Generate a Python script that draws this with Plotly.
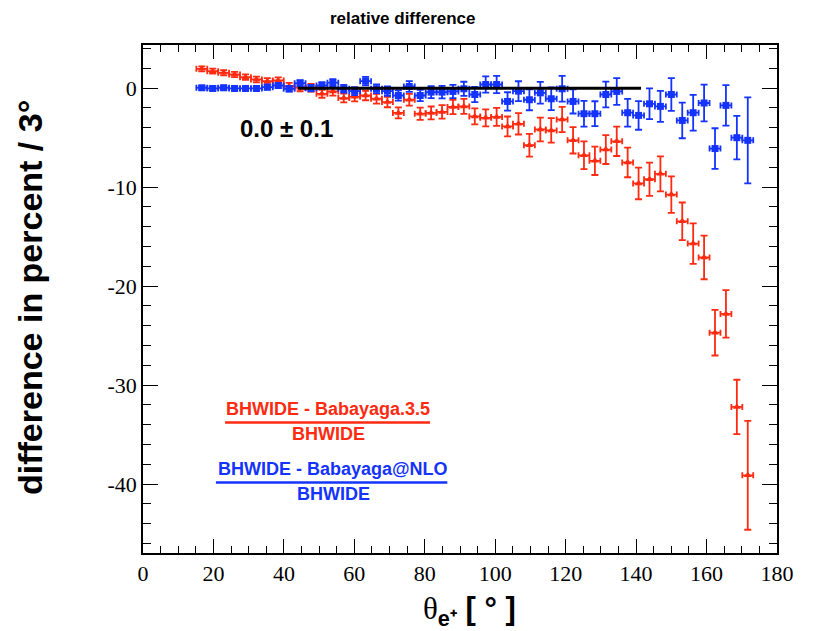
import plotly.graph_objects as go

# bin centres (degrees) as they appear on the picture
theta = [16.7, 19.8, 22.9, 26.0, 29.1, 32.2, 35.3, 38.4, 41.5, 44.6,
         47.7, 50.8, 53.9, 57.0, 60.1, 63.2, 66.3, 69.4, 72.5, 75.6,
         78.7, 81.8, 84.9, 88.0, 91.1, 94.2, 97.3, 100.4, 103.5, 106.6,
         109.7, 112.8, 115.9, 119.0, 122.1, 125.2, 128.3, 131.4, 134.5, 137.6,
         140.7, 143.8, 146.9, 150.0, 153.1, 156.2, 159.3, 162.4, 165.5, 168.6,
         171.7]
theta_halfwidth = [1.55] * len(theta)

# (BHWIDE - Babayaga.3.5)/BHWIDE  [%]
red_val = [1.95, 1.72, 1.55, 1.38, 1.11, 0.88, 0.71, 0.78, 0.2, 0.05,
           0.04, -0.57, -0.33, -1.0, -0.87, -0.74, -1.07, -1.4, -2.5, -1.17,
           -2.58, -2.5, -2.4, -1.9, -1.84, -2.85, -3.0, -2.9, -3.86, -3.6,
           -5.76, -4.17, -4.27, -3.16, -5.27, -6.78, -7.34, -6.2, -5.37, -7.5,
           -9.62, -9.2, -8.65, -10.75, -13.45, -15.7, -17.1, -24.7, -22.8, -32.2,
           -39.1]
red_err = [0.25, 0.25, 0.26, 0.27, 0.28, 0.29, 0.3, 0.32, 0.34, 0.36,
           0.38, 0.4, 0.42, 0.44, 0.46, 0.48, 0.5, 0.53, 0.56, 0.59,
           0.62, 0.65, 0.68, 0.72, 0.76, 0.8, 0.85, 0.9, 1.0, 1.08,
           1.15, 1.2, 1.24, 1.28, 1.33, 1.4, 1.43, 1.46, 1.48, 1.5,
           1.6, 1.68, 1.77, 1.85, 1.9, 2.05, 2.2, 2.3, 2.4, 2.75,
           5.5]

# (BHWIDE - Babayaga@NLO)/BHWIDE  [%]
blue_val = [0.04, -0.03, 0.04, -0.03, -0.03, -0.03, 0.1, 0.27, -0.06, 0.5,
            0.0, 0.27, 0.55, -0.06, -0.3, 0.71, -0.06, -0.3, -0.74, 0.17,
            -0.74, -0.4, -0.4, -0.33, -0.06, -0.64, 0.37, 0.37, -1.34, -0.3,
            -1.17, -0.47, -1.07, -0.06, -1.34, -2.58, -2.58, -0.64, -0.33, -2.48,
            -2.75, -1.58, -1.84, -0.64, -3.26, -2.48, -1.5, -6.1, -1.74, -5.0,
            -5.27]
blue_err = [0.2, 0.2, 0.21, 0.22, 0.23, 0.24, 0.25, 0.27, 0.29, 0.31,
            0.33, 0.35, 0.37, 0.39, 0.41, 0.43, 0.45, 0.48, 0.51, 0.54,
            0.57, 0.6, 0.63, 0.67, 0.71, 0.76, 0.82, 0.87, 0.93, 1.0,
            1.06, 1.1, 1.15, 1.3, 1.22, 1.3, 1.26, 1.3, 1.35, 1.4,
            1.45, 1.55, 1.56, 1.65, 1.8, 1.8, 1.85, 2.05, 2.05, 2.2,
            4.35]

# constant fit of the blue curve
fit_x = [44.0, 141.4]
fit_y = [0.0, 0.0]
fit_label = "0.0 ± 0.1"

x_ticks = [0, 20, 40, 60, 80, 100, 120, 140, 160, 180]
x_ticktext = ["0", "20", "40", "60", "80", "100", "120", "140", "160", "180"]
y_ticks = [0, -10, -20, -30, -40]
y_ticktext = ["0", "-10", "-20", "-30", "-40"]

RED = "#ff2a10"
BLUE = "#1433ff"

fig = go.Figure()

fig.add_trace(go.Scatter(
    x=theta, y=red_val, mode="markers",
    marker=dict(symbol="triangle-up", size=7, color=RED),
    error_y=dict(type="data", array=red_err, color=RED, thickness=1.8, width=3.5),
    error_x=dict(type="data", array=theta_halfwidth, color=RED, thickness=1.8, width=3),
    showlegend=False))

fig.add_trace(go.Scatter(
    x=theta, y=blue_val, mode="markers",
    marker=dict(symbol="square", size=7, color=BLUE),
    error_y=dict(type="data", array=blue_err, color=BLUE, thickness=1.8, width=3.5),
    error_x=dict(type="data", array=theta_halfwidth, color=BLUE, thickness=1.8, width=3),
    showlegend=False))

fig.add_trace(go.Scatter(
    x=fit_x, y=fit_y, mode="lines",
    line=dict(color="black", width=3), showlegend=False))

axis_common = dict(
    showgrid=False, zeroline=False, showline=True, linecolor="black", linewidth=1.5,
    mirror="ticks", ticks="inside", tickcolor="black", tickwidth=1.2,
    tickfont=dict(family="Liberation Serif", size=22, color="black"),
)

fig.update_xaxes(range=[0, 180], tickvals=x_ticks, ticktext=x_ticktext, ticklen=14,
                 minor=dict(dtick=5, ticklen=7, ticks="inside", tickcolor="black", tickwidth=1.2),
                 **axis_common)
fig.update_yaxes(range=[-46.95, 4.36], tickvals=y_ticks, ticktext=y_ticktext, ticklen=15,
                 minor=dict(dtick=2, ticklen=8, ticks="inside", tickcolor="black", tickwidth=1.2),
                 **axis_common)

ann = []
# title
ann.append(dict(text="<b>relative difference</b>", xref="paper", yref="paper",
                x=0.41, y=1.0, yshift=38, showarrow=False,
                font=dict(family="Liberation Sans", size=17, color="black")))
# fit result
ann.append(dict(text="<b>" + fit_label + "</b>", xref="x", yref="y", x=40.6, y=-4.07,
                showarrow=False, font=dict(family="Liberation Sans", size=24, color="black")))
# legend fractions
ann.append(dict(text="<b>BHWIDE - Babayaga.3.5</b>", xref="x", yref="y", x=52.5, y=-32.45,
                showarrow=False, font=dict(family="Liberation Sans", size=18, color=RED)))
ann.append(dict(text="<b>BHWIDE</b>", xref="x", yref="y", x=52.7, y=-34.95,
                showarrow=False, font=dict(family="Liberation Sans", size=18, color=RED)))
ann.append(dict(text="<b>BHWIDE - Babayaga@NLO</b>", xref="x", yref="y", x=53.8, y=-38.5,
                showarrow=False, font=dict(family="Liberation Sans", size=18, color=BLUE)))
ann.append(dict(text="<b>BHWIDE</b>", xref="x", yref="y", x=54.0, y=-41.0,
                showarrow=False, font=dict(family="Liberation Sans", size=18, color=BLUE)))
# axis titles
ann.append(dict(text="<b>difference in percent / 3°</b>", xref="paper", yref="paper",
                x=0, xshift=-113, xanchor="center", y=0.5, yshift=1, yanchor="middle",
                textangle=-90, showarrow=False,
                font=dict(family="Liberation Sans", size=34, color="black")))
ann.append(dict(text="<span style='font-family:Liberation Serif;font-weight:normal'>θ</span>"
                     "<sub><b>e⁺</b></sub><b> [ ° ]</b>",
                xref="paper", yref="paper", x=0.515, y=0, yshift=-36, yanchor="top",
                showarrow=False,
                font=dict(family="Liberation Sans", size=31, color="black")))

shapes = [
    dict(type="line", xref="x", yref="y", x0=23.3, x1=81.5, y0=-33.76, y1=-33.76,
         line=dict(color=RED, width=2.5)),
    dict(type="line", xref="x", yref="y", x0=20.7, x1=86.4, y0=-39.82, y1=-39.82,
         line=dict(color=BLUE, width=2.5)),
]

fig.update_layout(
    width=818, height=631,
    margin=dict(l=143, r=41, t=45, b=78),
    paper_bgcolor="white", plot_bgcolor="white",
    annotations=ann, shapes=shapes,
)

fig.write_html("out.html")
